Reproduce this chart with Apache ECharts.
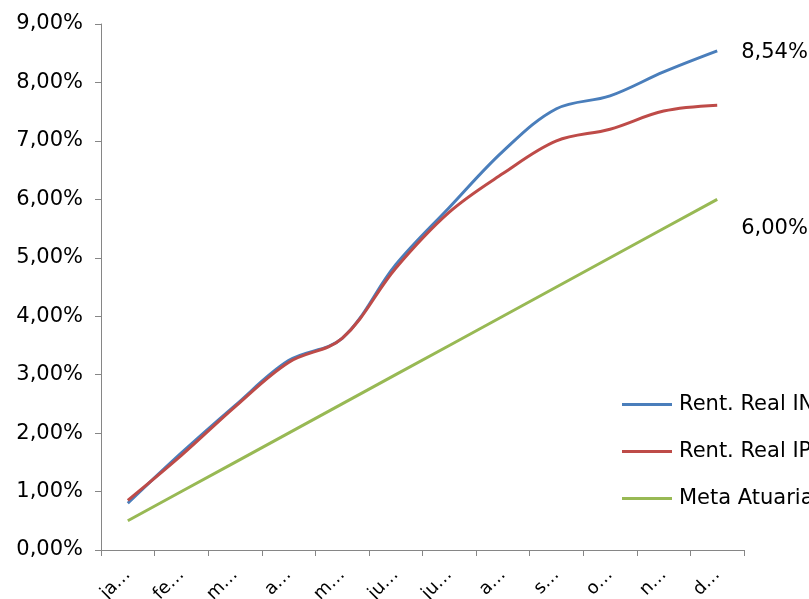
<!DOCTYPE html>
<html>
<head>
<meta charset="utf-8">
<script src="https://cdn.jsdelivr.net/npm/echarts@6/dist/echarts.min.js"></script>
<style>html,body{margin:0;padding:0;background:#fff}#c{width:809px;height:599px}</style>
</head>
<body>
<div id="c"></div>
<script>
const categories = ['ja…','fe…','m…','a…','m…','ju…','ju…','a…','s…','o…','n…','d…'];
const rentINPC = [0.80, 1.66, 2.47, 3.24, 3.62, 4.88, 5.86, 6.82, 7.55, 7.77, 8.18, 8.54];
const rentIPCA = [0.85, 1.62, 2.45, 3.21, 3.62, 4.82, 5.78, 6.44, 7.00, 7.20, 7.51, 7.61];
const metaAtuarial = [0.50, 1.00, 1.50, 2.00, 2.50, 3.00, 3.50, 4.00, 4.50, 5.00, 5.50, 6.00];
const seriesNames = ['Rent. Real INPC', 'Rent. Real IPCA', 'Meta Atuarial'];
const yTicks = [0, 1, 2, 3, 4, 5, 6, 7, 8, 9];

const FONT = 'DejaVu Sans';
const fmt = v => v.toFixed(2).replace('.', ',') + '%';
const endLbl = (dy) => ({ show: true, distance: 24, offset: [0, dy], formatter: p => fmt(p.value), color: '#000', fontFamily: FONT, fontSize: 21 });

const chart = echarts.init(document.getElementById('c'));
chart.setOption({
  animation: false,
  backgroundColor: '#fff',
  grid: { left: 101, right: 65, top: 24, bottom: 49, containLabel: false, outerBoundsMode: 'none' },
  legend: {
    orient: 'vertical', left: 622, top: 394, itemGap: 26, padding: 0,
    icon: 'rect', itemWidth: 50, itemHeight: 3,
    textStyle: { fontFamily: FONT, fontSize: 21, color: '#000', padding: [0, 0, 0, 2] },
    data: seriesNames
  },
  xAxis: {
    type: 'category', data: categories, boundaryGap: true,
    axisLine: { lineStyle: { color: '#868686', width: 1 } },
    axisTick: { show: true, alignWithLabel: false, length: 6, lineStyle: { color: '#868686' } },
    axisLabel: { rotate: 45, interval: 0, fontFamily: FONT, fontSize: 18, color: '#000', margin: 22 }
  },
  yAxis: {
    type: 'value', min: 0, max: 9, interval: 1,
    axisLine: { show: true, lineStyle: { color: '#868686', width: 1 } },
    axisTick: { show: true, length: 6, lineStyle: { color: '#868686' } },
    splitLine: { show: false },
    axisLabel: { formatter: v => yTicks.includes(v) ? fmt(v) : '', fontFamily: FONT, fontSize: 21, color: '#000', margin: 18 }
  },
  series: [
    { name: seriesNames[0], type: 'line', smooth: 0.35, showSymbol: false, symbol: 'none',
      data: rentINPC, color: '#4A7EBB', lineStyle: { width: 3, color: '#4A7EBB' }, z: 3, endLabel: endLbl(2) },
    { name: seriesNames[1], type: 'line', smooth: 0.35, showSymbol: false, symbol: 'none',
      data: rentIPCA, color: '#BE4B48', lineStyle: { width: 3, color: '#BE4B48' }, z: 4 },
    { name: seriesNames[2], type: 'line', smooth: false, showSymbol: false, symbol: 'none',
      data: metaAtuarial, color: '#98B954', lineStyle: { width: 3, color: '#98B954' }, z: 2, endLabel: endLbl(29) }
  ]
});
</script>
</body>
</html>
